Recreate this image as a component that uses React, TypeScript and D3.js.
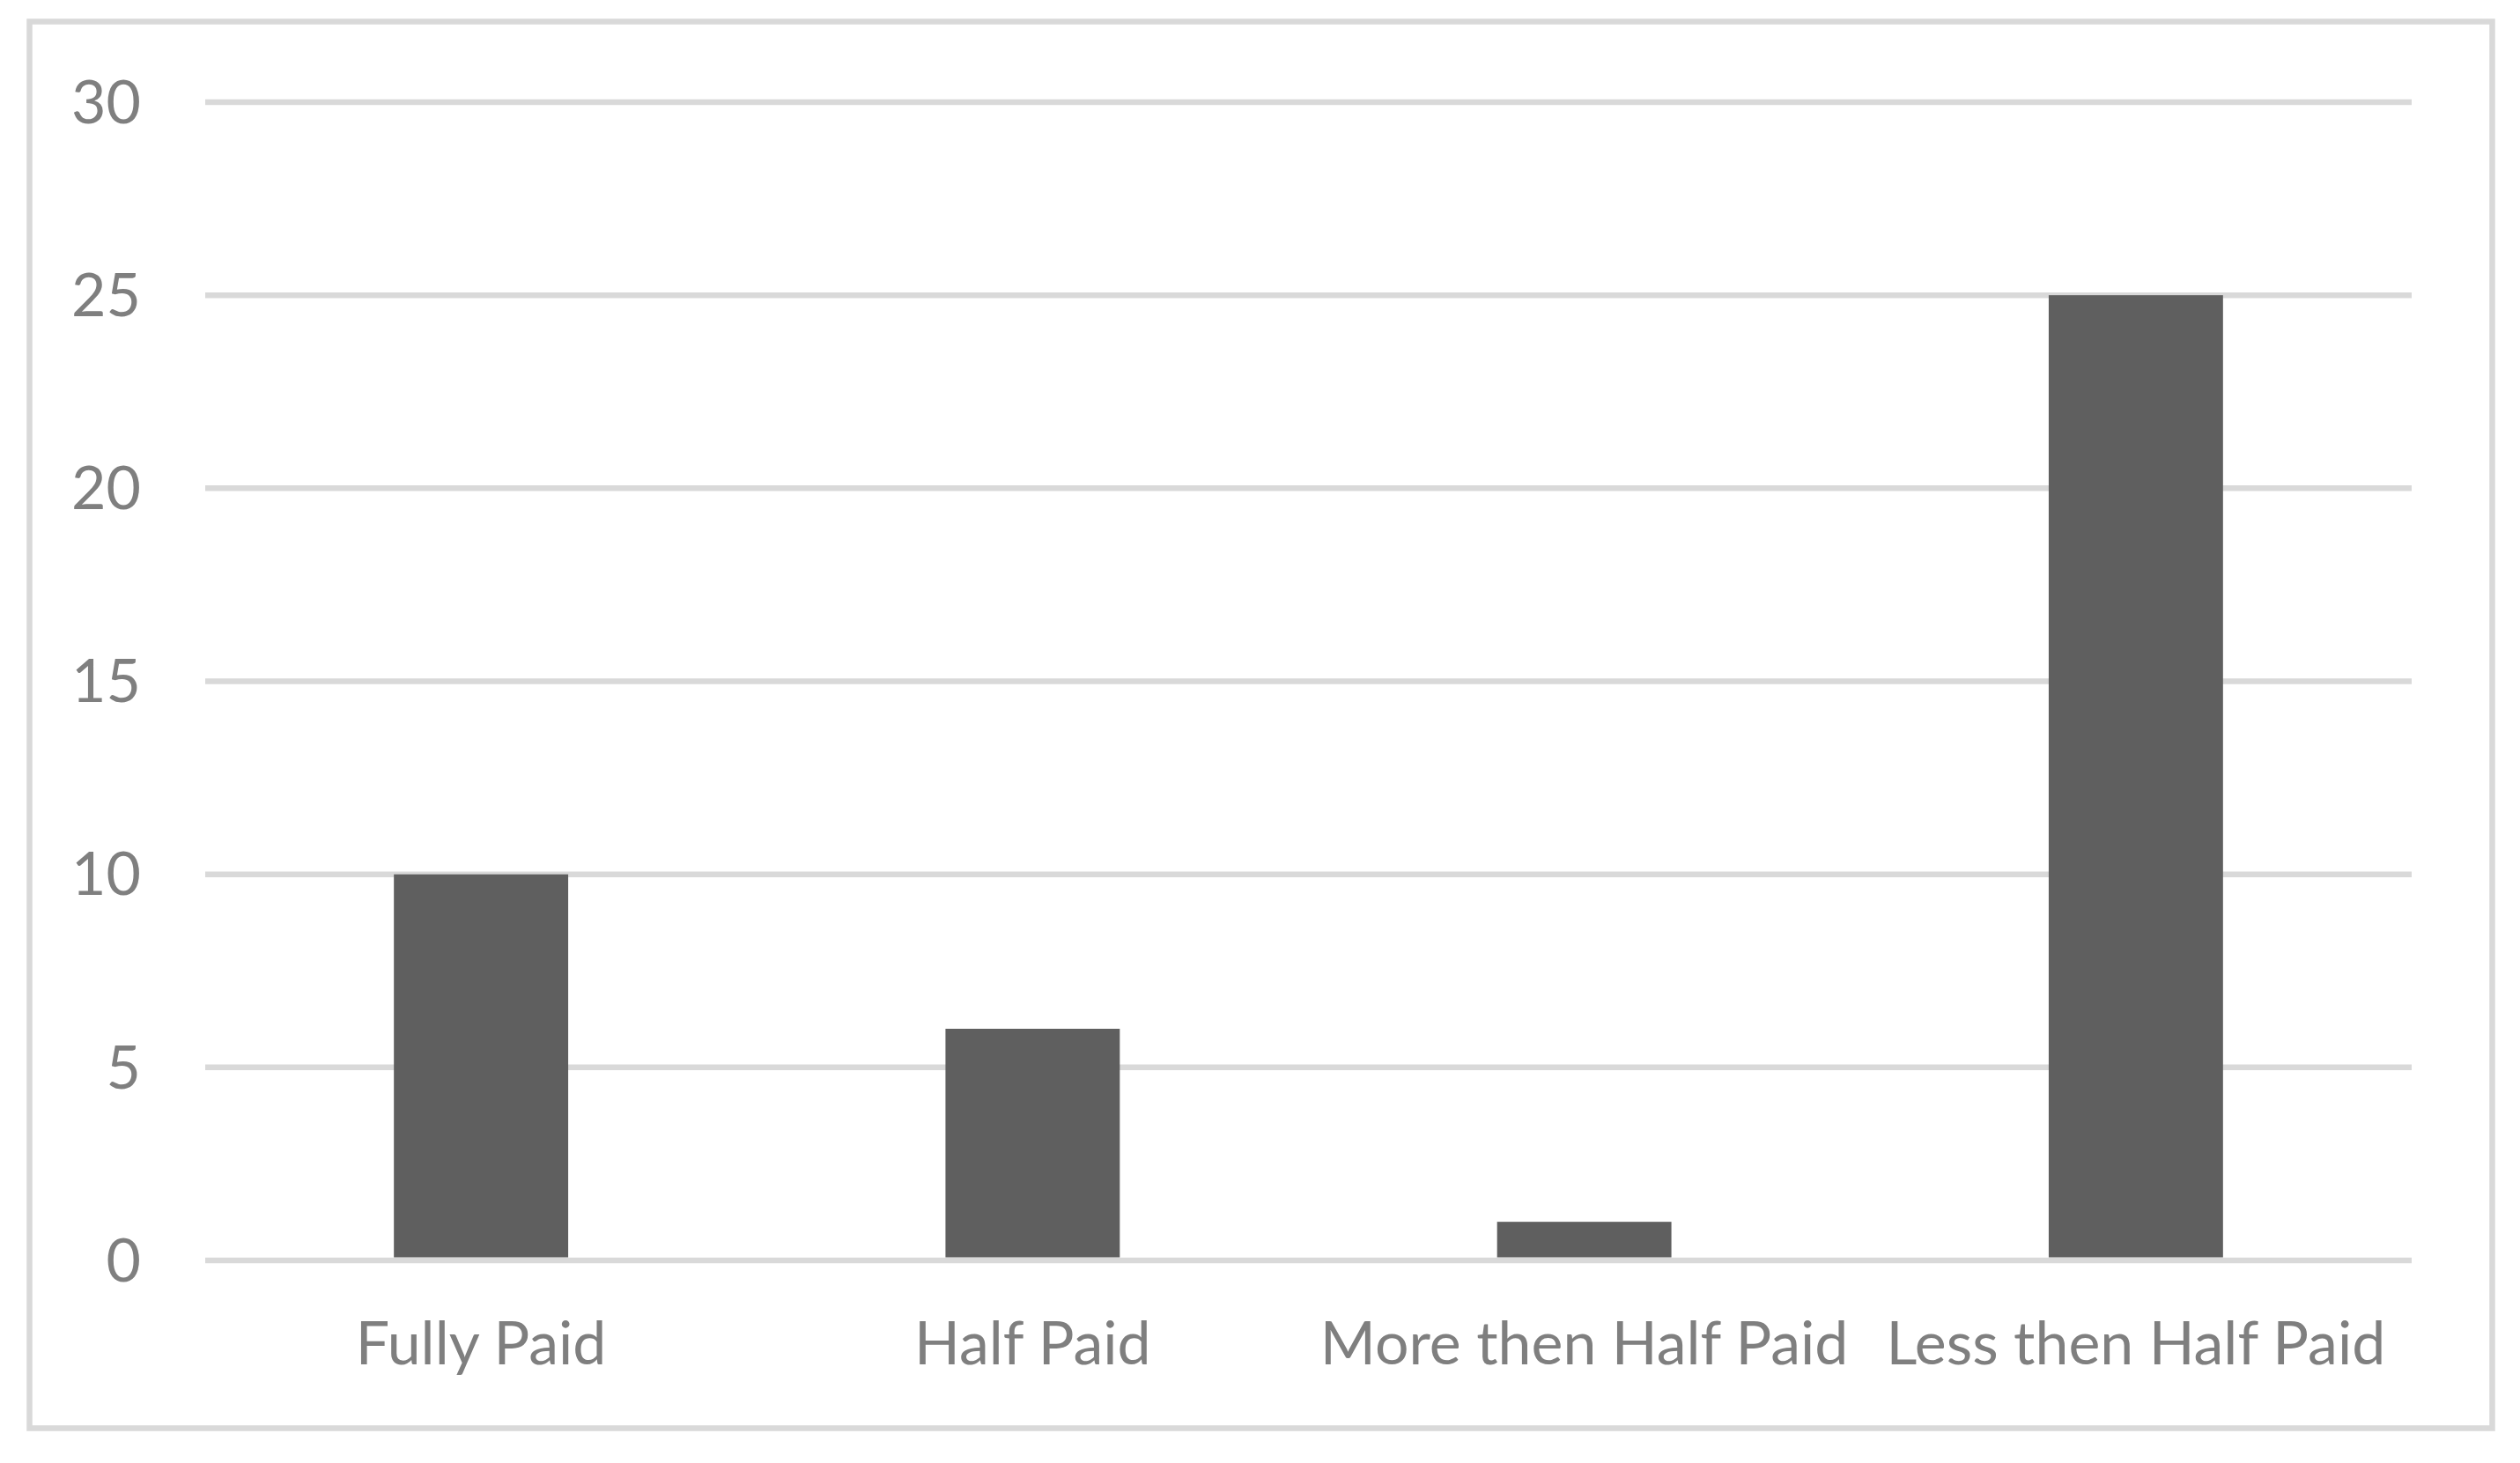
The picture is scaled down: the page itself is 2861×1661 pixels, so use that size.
import React, { useMemo } from 'react';
import { scaleBand, scaleLinear } from 'd3';

const W = 2861;
const H = 1661;

const categories = ['Fully Paid', 'Half Paid', 'More then Half Paid', 'Less then Half Paid'];
const counts = [10, 6, 1, 25];
const yTicks = [0, 5, 10, 15, 20, 25, 30];

const GRID = '#d9d9d9';
const BAR = '#5f5f5f';
const TEXT = '#7f7f7f';
const FONT = 'Lato, "Open Sans", sans-serif';

export default function App() {
	const margin = { left: 233, right: W - 2738, top: 116, bottom: H - 1431 };

	const x = useMemo(
		() =>
			scaleBand<string>()
				.domain(categories)
				.range([margin.left, W - margin.right])
				.paddingInner(0.684)
				.paddingOuter(0.342),
		[],
	);
	const y = useMemo(
		() => scaleLinear().domain([0, 30]).range([H - margin.bottom, margin.top]),
		[],
	);

	return (
		<svg
			width={W}
			height={H}
			viewBox={`0 0 ${W} ${H}`}
			style={{ position: 'absolute', left: 0, top: 0, background: '#fff' }}
		>
			<rect x={33.5} y={24.5} width={2796} height={1597} fill="#fff" stroke={GRID} strokeWidth={6.5} />

			{yTicks.map((t) => (
				<line
					key={`g${t}`}
					x1={margin.left}
					x2={W - margin.right}
					y1={y(t)}
					y2={y(t)}
					stroke={GRID}
					strokeWidth={6.5}
				/>
			))}

			{categories.map((c, i) => (
				<rect
					key={c}
					x={x(c)}
					y={y(counts[i])}
					width={x.bandwidth()}
					height={y(0) - 3.5 - y(counts[i])}
					fill={BAR}
				/>
			))}

			{yTicks.map((t) => (
				<text
					key={`t${t}`}
					x={160}
					y={y(t)}
					dy="0.35em"
					textAnchor="end"
					fill={TEXT}
					fontFamily={FONT}
					fontSize={68}
				>
					{t}
				</text>
			))}

			{categories.map((c) => (
				<text
					key={`l${c}`}
					x={(x(c) ?? 0) + x.bandwidth() / 2}
					y={1549}
					textAnchor="middle"
					fill={TEXT}
					fontFamily={FONT}
					fontSize={68}
				>
					{c}
				</text>
			))}
		</svg>
	);
}
